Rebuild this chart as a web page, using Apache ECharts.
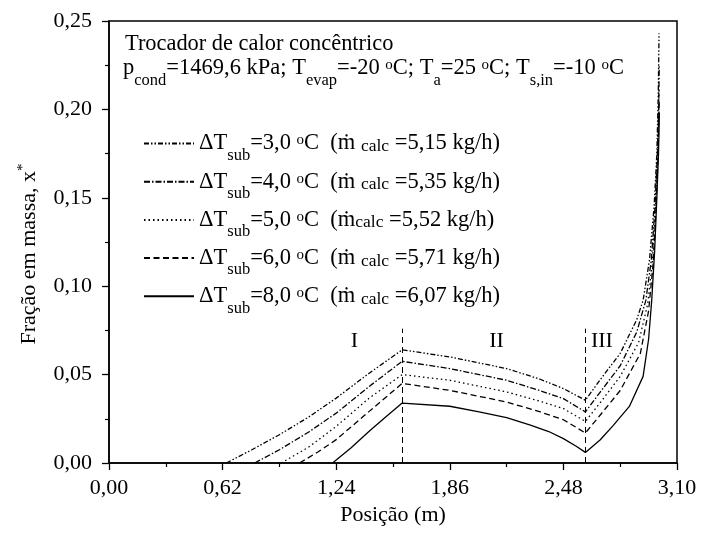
<!DOCTYPE html>
<html><head><meta charset="utf-8">
<script src="https://cdn.jsdelivr.net/npm/echarts@6/dist/echarts.min.js"></script>
<style>html,body{margin:0;padding:0;background:#fff}#c{width:701px;height:537px}</style>
</head><body><div id="c"></div>
<script>
// ---- data ----
const xTicks = [0, 0.62, 1.24, 1.86, 2.48, 3.10];
const yTicks = [0, 0.05, 0.10, 0.15, 0.20, 0.25];

const x3 = [0.64, 0.78, 0.93, 1.09, 1.24, 1.42, 1.60, 1.86, 2.17, 2.35, 2.48, 2.60, 2.68, 2.79, 2.88, 2.915, 2.95, 2.975, 2.99, 2.998, 3.002];
const y3 = [0, 0.0075, 0.016, 0.026, 0.0367, 0.0508, 0.064, 0.060, 0.0534, 0.0475, 0.0421, 0.0355, 0.047, 0.062, 0.081, 0.092, 0.115, 0.145, 0.175, 0.21, 0.243];

const x4 = [0.795, 0.93, 1.09, 1.24, 1.42, 1.60, 1.86, 2.17, 2.35, 2.48, 2.60, 2.68, 2.79, 2.88, 2.93, 2.96, 2.98, 2.993, 3.0, 3.003];
const y4 = [0, 0.0075, 0.0175, 0.0282, 0.0433, 0.0575, 0.0534, 0.0468, 0.041, 0.0364, 0.0289, 0.040, 0.055, 0.074, 0.092, 0.115, 0.145, 0.175, 0.20, 0.225];

const x5 = [0.94, 1.09, 1.24, 1.42, 1.60, 1.86, 2.17, 2.35, 2.48, 2.60, 2.68, 2.79, 2.89, 2.94, 2.965, 2.983, 2.995, 3.002];
const y5 = [0, 0.009, 0.0207, 0.0367, 0.050, 0.0468, 0.0402, 0.035, 0.0308, 0.0235, 0.034, 0.049, 0.068, 0.090, 0.113, 0.145, 0.175, 0.212];

const x6 = [1.04, 1.14, 1.24, 1.42, 1.60, 1.86, 2.17, 2.35, 2.48, 2.60, 2.68, 2.79, 2.90, 2.945, 2.97, 2.986, 2.997, 3.003];
const y6 = [0, 0.0062, 0.0132, 0.0292, 0.045, 0.0411, 0.0345, 0.029, 0.0245, 0.017, 0.027, 0.041, 0.062, 0.086, 0.113, 0.145, 0.175, 0.205];

const x8 = [1.22, 1.32, 1.42, 1.51, 1.60, 1.86, 2.02, 2.17, 2.30, 2.40, 2.48, 2.55, 2.60, 2.68, 2.75, 2.84, 2.915, 2.945, 2.962, 2.978, 2.99, 2.999, 3.004];
const y8 = [0, 0.0085, 0.0179, 0.026, 0.0339, 0.0321, 0.0289, 0.0257, 0.0214, 0.0178, 0.0138, 0.0095, 0.006, 0.013, 0.021, 0.032, 0.049, 0.07, 0.092, 0.12, 0.15, 0.175, 0.198];

const seriesNames = ['dT3', 'dT4', 'dT5', 'dT6', 'dT8'];
const dTsub = ['3,0', '4,0', '5,0', '6,0', '8,0'];
const mCalc = ['5,15', '5,35', '5,52', '5,71', '6,07'];

const regionX = [1.60, 2.60];
const regionTop = 0.076;
const regionLabels = ['I', 'II', 'III'];
const regionLabelX = [1.34, 2.115, 2.69];
const regionLabelY = 0.069;

// ---- chart ----
const FONT = '"Liberation Serif","Times New Roman",serif';
const zip = (a, b) => a.map((v, i) => [v, b[i]]);
const xsAll = [x3, x4, x5, x6, x8];
const ysAll = [y3, y4, y5, y6, y8];
const dashes = [[5, 2, 1.5, 2, 1.5, 2], [6, 2, 1.5, 2], [1.5, 3], [6, 3.5], 'solid'];
const mSpace = [' ', ' ', '', ' ', ' '];

const base = {fontFamily: FONT, color: '#000', fontWeight: 'normal'};
const rich = {
  n:    Object.assign({}, base, {fontSize: 22.5, lineHeight: 22.5, verticalAlign: 'middle'}),
  t:    Object.assign({}, base, {fontSize: 22.4, lineHeight: 22.4, verticalAlign: 'middle'}),
  sub:  Object.assign({}, base, {fontSize: 16.5, lineHeight: 16.5, verticalAlign: 'middle', padding: [24, 0, 0, 0]}),
  sup:  Object.assign({}, base, {fontSize: 15, lineHeight: 15, verticalAlign: 'middle', padding: [0, 0, 6, 0]}),
  calc: Object.assign({}, base, {fontSize: 17.5, lineHeight: 17.5, verticalAlign: 'middle', padding: [6, 0, 0, 0]}),
  y:    Object.assign({}, base, {fontSize: 22, lineHeight: 22, verticalAlign: 'middle'}),
  star: Object.assign({}, base, {fontSize: 15, lineHeight: 15, verticalAlign: 'middle', padding: [0, 0, 12, 0]})
};

const fmt = v => Number(v).toFixed(2).replace('.', ',');

const series = seriesNames.map((nm, i) => ({
  name: nm,
  type: 'line',
  data: zip(xsAll[i], ysAll[i]),
  showSymbol: false,
  symbol: 'none',
  smooth: false,
  lineStyle: {color: '#000', width: 1.3, type: dashes[i]},
  itemStyle: {color: '#000'},
  z: 3
}));

series[4].markLine = {
  silent: true,
  symbol: 'none',
  label: {show: false},
  lineStyle: {color: '#000', width: 1, type: [6, 4]},
  data: regionX.map(x => [{coord: [x, 0]}, {coord: [x, regionTop]}])
};
series[4].markPoint = {
  silent: true,
  symbol: 'circle',
  symbolSize: 1,
  itemStyle: {color: 'rgba(0,0,0,0)'},
  label: {show: true, position: 'inside', formatter: p => p.name,
          fontFamily: FONT, fontSize: 22, color: '#000'},
  data: regionLabels.map((t, i) => ({name: t, coord: [regionLabelX[i], regionLabelY]}))
};

const option = {
  animation: false,
  backgroundColor: '#fff',
  title: [
    {left: 125, top: 33, padding: 0,
     text: '{t|Trocador de calor concêntrico}', textStyle: {rich, fontWeight: 'normal'}},
    {left: 123, top: 57, padding: 0,
     text: '{n|p}{sub|cond}{n|=1469,6 kPa; T}{sub|evap}{n|=-20 }{sup|o}{n|C; T}{sub|a}{n|=25 }{sup|o}{n|C; T}{sub|s,in}{n|=-10 }{sup|o}{n|C}',
     textStyle: {rich, fontWeight: 'normal'}}
  ],
  legend: {
    data: seriesNames,
    orient: 'vertical',
    left: 143, top: 123, padding: 0,
    itemWidth: 50, itemHeight: 14, itemGap: -2.8,
    itemStyle: {opacity: 0},
    formatter: nm => {
      const i = seriesNames.indexOf(nm);
      return '{n|ΔT}{sub|sub}{n|=' + dTsub[i] + ' }{sup|o}{n|C  (ṁ' + mSpace[i] + '}{calc|calc}{n| =' + mCalc[i] + ' kg/h)}';
    },
    textStyle: {rich}
  },
  grid: {left: 109, right: 24, top: 21, bottom: 74, show: true, borderColor: '#000', borderWidth: 1.5, backgroundColor: 'transparent'},
  xAxis: {
    type: 'value', min: xTicks[0], max: xTicks[xTicks.length - 1], interval: 0.62,
    name: 'Posição (m)', nameLocation: 'middle', nameGap: 35,
    nameTextStyle: {fontFamily: FONT, fontSize: 22, color: '#000'},
    axisLine: {show: true, lineStyle: {color: '#000', width: 1.5}},
    axisTick: {show: true, inside: false, length: 7, lineStyle: {color: '#000', width: 1.3}},
    minorTick: {show: true, splitNumber: 2, length: 4, lineStyle: {color: '#000', width: 1.2}},
    splitLine: {show: false},
    axisLabel: {formatter: fmt, fontFamily: FONT, fontSize: 22, color: '#000', margin: 14}
  },
  yAxis: {
    type: 'value', min: yTicks[0], max: yTicks[yTicks.length - 1], interval: 0.05,
    name: '{y|Fração em massa, x}{star|*}', nameLocation: 'middle', nameGap: 66, nameRotate: 90,
    nameTextStyle: {rich, padding: [0, 24, 0, 0]},
    axisLine: {show: true, lineStyle: {color: '#000', width: 1.5}},
    axisTick: {show: true, inside: false, length: 7, lineStyle: {color: '#000', width: 1.3}},
    minorTick: {show: true, splitNumber: 2, length: 4, lineStyle: {color: '#000', width: 1.2}},
    splitLine: {show: false},
    axisLabel: {formatter: fmt, fontFamily: FONT, fontSize: 22, color: '#000', margin: 17}
  },
  series
};

const chart = echarts.init(document.getElementById('c'), null, {renderer: 'canvas'});
chart.setOption(option);
</script>
</body></html>
